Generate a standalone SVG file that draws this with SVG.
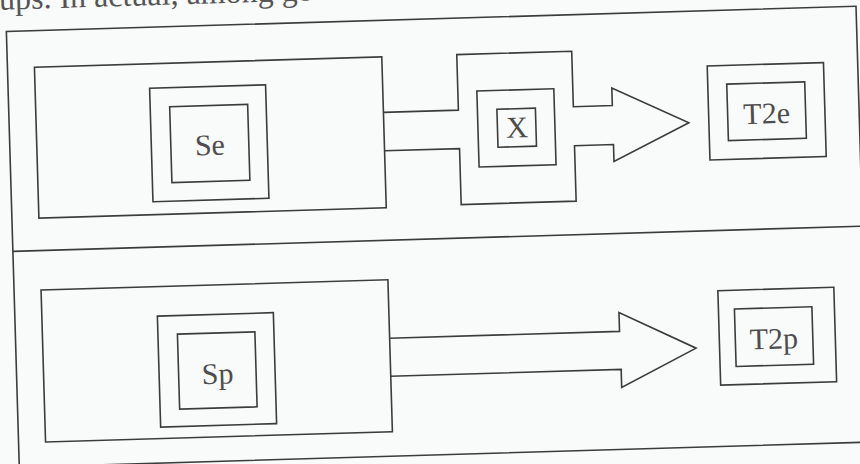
<svg xmlns="http://www.w3.org/2000/svg" width="860" height="464" viewBox="0 0 860 464">
  <style>
    .ln { fill: none; stroke: #3c3c3c; stroke-width: 1.6; stroke-linejoin: miter; }
    .lbl { font-family: "Liberation Serif", "Times New Roman", serif; font-size: 30px; fill: #4d4d4d; text-anchor: middle; }
    .body { font-family: "Liberation Serif", "Times New Roman", serif; font-size: 32px; fill: #555; }
  </style>
  <rect width="860" height="464" fill="#f9fafa"/>
  <!-- whole page sits slightly tilted -->
  <g transform="rotate(-1.7 430 232)">
    <text class="body" x="-10" y="-3">oups. In actual, among ge</text>

    <g id="frame">
      <rect class="ln" x="12.5" y="19" width="850" height="436"/>
      <line class="ln" x1="12.5" y1="239" x2="862.5" y2="239"/>
    </g>

    <g id="connectors">
      <polyline class="ln" points="387,111 462,111 462,55.5 577,55.5 577,111 616,111 616,93.5 692,130.5 616,167 616,150 577,150 577,205.5 462,205.5 462,149.5 387,149.5"/>
      <polyline class="ln" points="386,337 616.5,337 616.5,318 692.5,356 617,393 617,375 386,375"/>
    </g>

    <g id="node-se">
      <rect class="ln" x="39.5" y="55.5" width="347.5" height="151"/>
      <rect class="ln" x="154" y="80" width="116" height="113.5"/>
      <rect class="ln" x="173.5" y="99" width="78" height="76"/>
      <text class="lbl" x="212.5" y="148.5" font-size="31">Se</text>
    </g>

    <g id="node-x">
      <rect class="ln" x="481" y="92.5" width="77" height="76"/>
      <rect class="ln" x="500.5" y="111.3" width="38.5" height="38"/>
      <text class="lbl" x="520" y="140" font-size="29">X</text>
    </g>

    <g id="node-t2e">
      <rect class="ln" x="712" y="74.3" width="116.3" height="94"/>
      <rect class="ln" x="731" y="93" width="78" height="56.5"/>
      <text class="lbl" x="770" y="133.5">T2e</text>
    </g>

    <g id="node-sp">
      <rect class="ln" x="39.5" y="278.5" width="347" height="152"/>
      <rect class="ln" x="155" y="308" width="116" height="111"/>
      <rect class="ln" x="174.5" y="326.6" width="77.5" height="75"/>
      <text class="lbl" x="213.5" y="377.5" font-size="31">Sp</text>
    </g>

    <g id="node-t2p">
      <rect class="ln" x="716" y="299.2" width="116" height="94.5"/>
      <rect class="ln" x="732" y="318" width="77.5" height="57.5"/>
      <text class="lbl" x="770.5" y="359">T2p</text>
    </g>
  </g>
</svg>
